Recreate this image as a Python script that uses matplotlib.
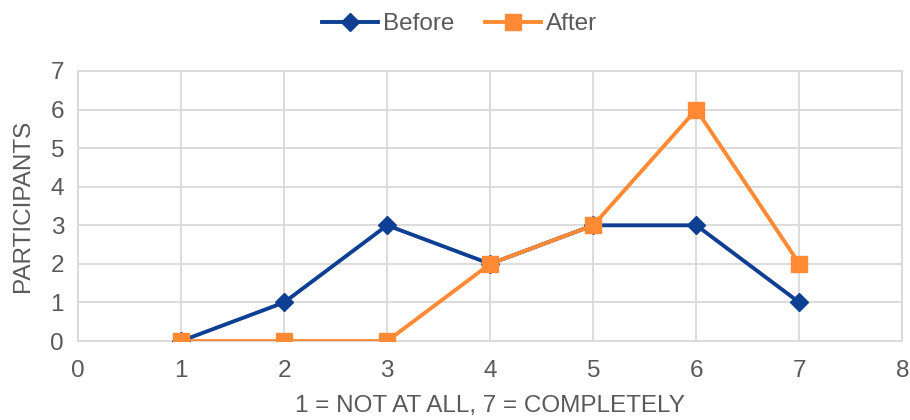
import matplotlib.pyplot as plt

# Ratings from 1 (not at all) to 7 (completely)
rating = [1, 2, 3, 4, 5, 6, 7]
before = [0, 1, 3, 2, 3, 3, 1]
after = [0, 0, 0, 2, 3, 6, 2]

plt.rcParams['font.family'] = ['Liberation Sans', 'DejaVu Sans']
text_color = '#595959'
grid_color = '#D9D9D9'
fs = 17.5

fig = plt.figure(figsize=(9.1, 4.2), dpi=100)
ax = fig.add_axes([0.0857, 0.188, 0.906, 0.643])

ax.plot(rating, before, color='#0E3F92', lw=2.8, marker='D', markersize=9,
        label='Before', zorder=3)
ax.plot(rating, after, color='#FF8A33', lw=2.8, marker='s', markersize=11.5,
        label='After', zorder=4)

ax.set_xlim(0, 8)
ax.set_ylim(0, 7)
ax.set_xticks(range(0, 9))
ax.set_yticks(range(0, 8))
ax.grid(True, color=grid_color, lw=1.3)
ax.set_axisbelow(True)
for s in ax.spines.values():
    s.set_color(grid_color)
    s.set_linewidth(1.3)
ax.tick_params(length=0, labelsize=fs, labelcolor=text_color)
ax.tick_params(axis='x', pad=14)
ax.tick_params(axis='y', pad=10)

ax.set_xlabel('1 = NOT AT ALL, 7 = COMPLETELY', fontsize=fs, color=text_color, labelpad=9)
ax.set_ylabel('PARTICIPANTS', fontsize=fs, color=text_color, labelpad=12)

fig.legend(loc='upper center', bbox_to_anchor=(0.505, 1.02), ncol=2, frameon=False,
           fontsize=fs, labelcolor=text_color, handlelength=2.3, columnspacing=1.3,
           handletextpad=0.2)

fig.savefig('out.png', dpi=100)
